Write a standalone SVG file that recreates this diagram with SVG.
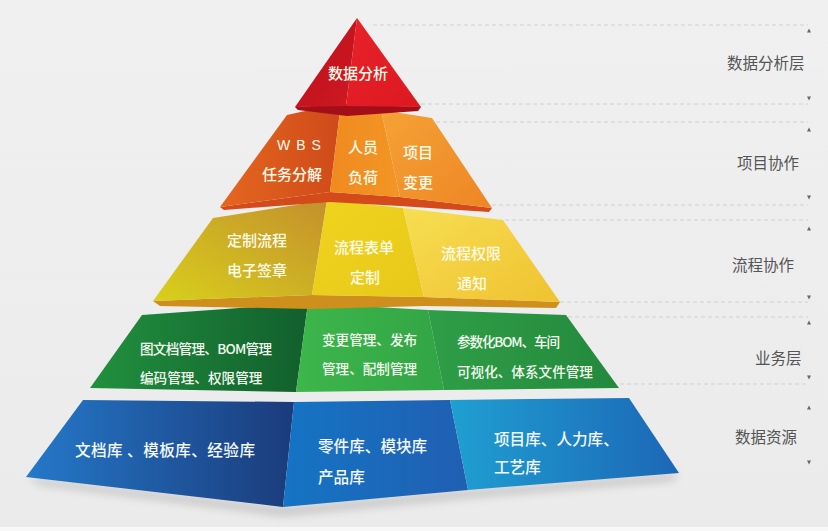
<svg xmlns="http://www.w3.org/2000/svg" width="828" height="531" viewBox="0 0 828 531">
<defs>
<style>
.t{font-family:"Noto Sans CJK SC","Noto Sans",sans-serif;font-size:15px;fill:#fffbe8;font-weight:500}
.tb{font-family:"Noto Sans CJK SC","Noto Sans",sans-serif;font-size:15.6px;fill:#f4f8ff;font-weight:500}
.ts{font-family:"Noto Sans CJK SC","Noto Sans",sans-serif;font-size:13.6px;fill:#f3fbef;font-weight:500}
.lab{font-family:"Noto Sans CJK SC","Noto Sans",sans-serif;font-size:15.5px;fill:#555555}
.dash{stroke:#d0d0d0;stroke-width:1;stroke-dasharray:4 3;fill:none}
.mk{fill:#666666}
</style>
<linearGradient id="bg" x1="0" y1="0" x2="0" y2="1"><stop offset="0" stop-color="#f0f0f1"/><stop offset="1" stop-color="#ebebeb"/></linearGradient>
<linearGradient id="rL" x1="0" y1="0" x2="1" y2="1"><stop offset="0" stop-color="#b80f1b"/><stop offset="1" stop-color="#d01922"/></linearGradient>
<linearGradient id="rR" x1="0" y1="0" x2="1" y2="1"><stop offset="0" stop-color="#e8222b"/><stop offset="1" stop-color="#dc1820"/></linearGradient>
<linearGradient id="oL" x1="0" y1="0" x2="1" y2="0"><stop offset="0" stop-color="#e4671f"/><stop offset="1" stop-color="#cf4a1a"/></linearGradient>
<linearGradient id="oC" x1="0" y1="0" x2="1" y2="0"><stop offset="0" stop-color="#f08a1f"/><stop offset="1" stop-color="#f29625"/></linearGradient>
<linearGradient id="oR" x1="0" y1="0" x2="1" y2="1"><stop offset="0" stop-color="#f5a236"/><stop offset="1" stop-color="#ee8624"/></linearGradient>
<linearGradient id="yL" x1="0" y1="1" x2="1" y2="0"><stop offset="0" stop-color="#d8d01c"/><stop offset="1" stop-color="#c4902c"/></linearGradient>
<linearGradient id="yC" x1="0" y1="0" x2="1" y2="1"><stop offset="0" stop-color="#efd41e"/><stop offset="1" stop-color="#e8c81b"/></linearGradient>
<linearGradient id="yR" x1="0" y1="0" x2="1" y2="1"><stop offset="0" stop-color="#f7de52"/><stop offset="1" stop-color="#efc230"/></linearGradient>
<linearGradient id="gL" x1="0" y1="0" x2="1" y2="0"><stop offset="0" stop-color="#21903e"/><stop offset="1" stop-color="#125f2d"/></linearGradient>
<linearGradient id="gC" x1="0" y1="0" x2="1" y2="0"><stop offset="0" stop-color="#3db64b"/><stop offset="1" stop-color="#32a545"/></linearGradient>
<linearGradient id="gR" x1="0" y1="0" x2="1" y2="0"><stop offset="0" stop-color="#2f9e47"/><stop offset="1" stop-color="#23893d"/></linearGradient>
<linearGradient id="bL" x1="0" y1="0" x2="1" y2="0"><stop offset="0" stop-color="#2479c9"/><stop offset="1" stop-color="#1b3b7c"/></linearGradient>
<linearGradient id="bC" x1="0" y1="0" x2="1" y2="0"><stop offset="0" stop-color="#1574c4"/><stop offset="1" stop-color="#205fb2"/></linearGradient>
<linearGradient id="bR" x1="0" y1="0" x2="1" y2="0"><stop offset="0" stop-color="#1f9fd2"/><stop offset="1" stop-color="#1c67b6"/></linearGradient>
<filter id="sh" x="-10%" y="-50%" width="120%" height="200%"><feGaussianBlur stdDeviation="4"/></filter>
</defs>

<rect width="828" height="531" fill="url(#bg)"/>
<rect y="527" width="828" height="4" fill="#f8f8f8"/>

<g id="guides">
<line class="dash" x1="373" y1="25" x2="808" y2="25"/>
<line class="dash" x1="421" y1="104" x2="808" y2="104"/>
<line class="dash" x1="436" y1="122" x2="808" y2="122"/>
<line class="dash" x1="492" y1="205" x2="808" y2="205"/>
<line class="dash" x1="505" y1="220" x2="808" y2="220"/>
<line class="dash" x1="560" y1="302" x2="808" y2="302"/>
<line class="dash" x1="568" y1="317" x2="808" y2="317"/>
<line class="dash" x1="620" y1="384" x2="808" y2="384"/>
<path class="mk" d="M809 28.5l2 4h-4z"/>
<path class="mk" d="M809 100.5l2 -4h-4z"/>
<path class="mk" d="M809 127.5l2 4h-4z"/>
<path class="mk" d="M809 199.5l2 -4h-4z"/>
<path class="mk" d="M809 226.5l2 4h-4z"/>
<path class="mk" d="M809 299.5l2 -4h-4z"/>
<path class="mk" d="M809 320.5l2 4h-4z"/>
<path class="mk" d="M809 379.5l2 -4h-4z"/>
<path class="mk" d="M809 405.5l2 4h-4z"/>
<path class="mk" d="M809 464.5l2 -4h-4z"/>
</g>

<g id="labels">
<text class="lab" x="727" y="69">数据分析层</text>
<text class="lab" x="737" y="169">项目协作</text>
<text class="lab" x="732" y="271">流程协作</text>
<text class="lab" x="755" y="364">业务层</text>
<text class="lab" x="735" y="443">数据资源</text>
</g>

<g id="tier-blue">
<polygon points="40,485 283,516 468,498 672,481 679,473 468,490 283,507 26,477" fill="#9a9a9a" opacity="0.45" filter="url(#sh)"/>
<polygon points="83,400 294,402 283,507 26,477" fill="url(#bL)"/>
<polygon points="294,402 450,400 468,490 283,507" fill="url(#bC)"/>
<polygon points="450,400 629,398 679,473 468,490" fill="url(#bR)"/>
<text class="tb" x="75" y="456" textLength="180">文档库 、模板库、经验库</text>
<text class="tb" x="318" y="452">零件库、模块库</text>
<text class="tb" x="318" y="483">产品库</text>
<text class="tb" x="494" y="445">项目库、人力库、</text>
<text class="tb" x="494" y="473">工艺库</text>
</g>

<g id="tier-green">
<polygon points="142,315 308,303 296,392 90,388" fill="url(#gL)"/>
<polygon points="308,303 428,310 444,390 296,392" fill="url(#gC)"/>
<polygon points="428,310 566,315 619,388 444,390" fill="url(#gR)"/>
<text class="ts" x="140" y="354" textLength="132">图文档管理、BOM管理</text>
<text class="ts" x="140" y="383">编码管理、权限管理</text>
<text class="ts" x="322" y="345">变更管理、发布</text>
<text class="ts" x="322" y="374">管理、配制管理</text>
<text class="ts" x="457" y="347" textLength="103">参数化BOM、车间</text>
<text class="ts" x="457" y="377">可视化、体系文件管理</text>
</g>

<g id="tier-yellow">
<polygon points="153,301 312,295 424,297 560,302 556,308 424,306 312,309 160,306" fill="#cf8f1d"/>
<polygon points="213,218 327,200 312,295 153,301" fill="url(#yL)"/>
<polygon points="327,200 403,208 424,297 312,295" fill="url(#yC)"/>
<polygon points="403,208 503,220 560,302 424,297" fill="url(#yR)"/>
<text class="t" x="227" y="246">定制流程</text>
<text class="t" x="227" y="276">电子签章</text>
<text class="t" x="334" y="253">流程表单</text>
<text class="t" x="350" y="283">定制</text>
<text class="t" x="441" y="259">流程权限</text>
<text class="t" x="457" y="289">通知</text>
</g>

<g id="tier-orange">
<polygon points="220,207 330,192 400,197 492,208 489,212 400,206 330,202 224,210" fill="#d44a1b"/>
<polygon points="287,115 341,103 330,192 220,207" fill="url(#oL)"/>
<polygon points="341,103 381,110 400,197 330,192" fill="url(#oC)"/>
<polygon points="381,110 432,118 492,208 400,197" fill="url(#oR)"/>
<text class="t" x="277" y="150" letter-spacing="6" style="font-family:'Liberation Sans',sans-serif;font-size:14px">WBS</text>
<text class="t" x="262" y="180">任务分解</text>
<text class="t" x="348" y="153">人员</text>
<text class="t" x="348" y="183">负荷</text>
<text class="t" x="403" y="158">项目</text>
<text class="t" x="403" y="188">变更</text>
</g>

<g id="tier-red">
<polygon points="295,107 346,104 421,107 418,111 347,116 298,110" fill="#a30e18"/>
<polygon points="357,18 346,106 295,107" fill="url(#rL)"/>
<polygon points="357,18 421,107 346,106" fill="url(#rR)"/>
<text class="t" x="328" y="79">数据分析</text>
</g>
</svg>
